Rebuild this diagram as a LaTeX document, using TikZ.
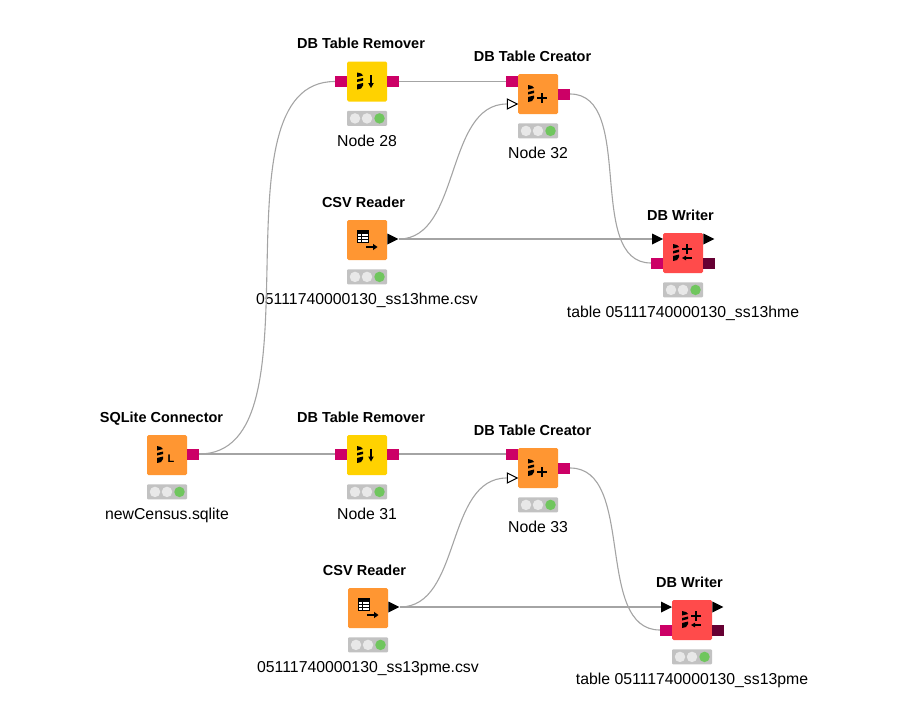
\documentclass[tikz,border=0pt]{standalone}
\usepackage{fontspec}
\setmainfont{Liberation Sans}
\usetikzlibrary{positioning,shapes.geometric}

\definecolor{dbyellow}{HTML}{FFD200}
\definecolor{srcorange}{HTML}{FF9632}
\definecolor{sinkred}{HTML}{FF4B4B}
\definecolor{dbpink}{HTML}{CC0066}
\definecolor{dbdark}{HTML}{660033}
\definecolor{lampgray}{HTML}{C2C2C2}
\definecolor{lampoff}{HTML}{E8E8E8}
\definecolor{lampgreen}{HTML}{70C65E}
\definecolor{wiregray}{HTML}{A4A4A4}

\tikzset{
  nodebody/.style={rectangle, rounded corners=1.5pt, minimum size=40pt, inner sep=0pt},
  nodetitle/.style={font=\bfseries\fontsize{14.5}{14.5}\selectfont, inner sep=0pt, text height=11pt, text depth=3pt},
  nodelabel/.style={font=\fontsize{15.8}{15.8}\selectfont, inner sep=0pt, text height=11pt, text depth=3pt},
  lamps/.style={rectangle, fill=lampgray, rounded corners=1pt, minimum width=40pt, minimum height=15pt, inner sep=0pt},
  lamp/.style={circle, minimum size=10.5pt, inner sep=0pt},
  dbport/.style={rectangle, fill=dbpink, minimum width=11.5pt, minimum height=11pt, inner sep=0pt},
  dataport/.style={isosceles triangle, isosceles triangle stretches, fill=black, minimum width=11pt, minimum height=11pt, inner sep=0pt},
  optport/.style={dataport, fill=white, draw=black, line width=1pt, minimum width=10pt, minimum height=10pt},
  wire/.style={draw=wiregray, line width=1.1pt},
  iconline/.style={draw=black, line width=1.9pt},
  stack/.pic={
    \fill (-10,-9) -- (-6,-8) -- (-4,-6) -- (-10,-4.5) -- cycle;
    \fill (-10,-2) -- (-4,-3.5) -- (-4,-1) -- (-10,0.5) -- cycle;
    \fill (-10,3) -- (-4,1.5) -- (-4,4) -- (-6,7) -- (-10,8) -- cycle;
  },
  grid/.pic={
    \fill (-10,-10) rectangle (2,3);
    \foreach \i in {0,1,2} \foreach \j in {0,1,2}
      \fill[white] ({-9+3.7*\i},{-6+3*\j}) rectangle +(2.9,2.2);
    \draw[iconline] (-1,7) -- (8,7);
    \fill (10.5,7) -- (6,3.8) -- (6,10.2) -- cycle;
  },
  plusdown/.pic={
    \draw[iconline] (-1,4) -- (9,4);
    \draw[iconline] (4,-1) -- (4,9);
  },
  arrowdown/.pic={
    \draw[draw=black, line width=1.2pt] (4,-6.5) -- (4,3);
    \fill (4,6.5) -- (1.2,1.5) -- (6.8,1.5) -- cycle;
  },
  plusleft/.pic={
    \draw[iconline] (-1,-4) -- (9,-4);
    \draw[iconline] (4,-9) -- (4,1);
    \draw[draw=black, line width=1.2pt] (2,5) -- (9,5);
    \fill (-1,5) -- (3,2.6) -- (3,7.4) -- cycle;
  },
}

% body, title, lamps and caption of one workflow node
\newcommand{\knimenode}[7]{
  \node[nodebody, fill=#3] (#1) at (#2) {};
  \node[nodetitle, above=9.5pt of #1, xshift=#5] (#1-title) {#4};
  \node[lamps, below=9pt of #1] (#1-lamps) {};
  \node[lamp, fill=lampoff, xshift=-12pt] (#1-l1) at (#1-lamps.center) {};
  \node[lamp, fill=lampoff] (#1-l2) at (#1-lamps.center) {};
  \node[lamp, fill=lampgreen, xshift=12.5pt] (#1-l3) at (#1-lamps.center) {};
  \node[nodelabel, below=9pt of #1-lamps] (#1-label) {#6};
  #7
}

\begin{document}
\begin{tikzpicture}[x=1pt, y=-1pt]
  \useasboundingbox (0,0) rectangle (900,704);

  \knimenode{conn}{167,455}{srcorange}{SQLite Connector}{-5.5pt}{newCensus.sqlite}
    {\pic at (conn) {stack}; \node[font=\bfseries\fontsize{11}{11}\selectfont, inner sep=0pt] (conn-icon) at (171,458.5) {L};}

  \knimenode{remA}{367,81.5}{dbyellow}{DB Table Remover}{-6pt}{Node 28}
    {\pic at (remA) {stack}; \pic at (remA) {arrowdown};}
  \knimenode{creA}{538,94}{srcorange}{DB Table Creator}{-5.5pt}{Node 32}
    {\pic at (creA) {stack}; \pic at (creA) {plusdown};}
  \knimenode{csvA}{367,240}{srcorange}{CSV Reader}{-3.5pt}{05111740000130\_ss13hme.csv}
    {\pic at (csvA) {grid};}
  \knimenode{wriA}{683,253}{sinkred}{DB Writer}{-2.5pt}{table 05111740000130\_ss13hme}
    {\pic at (wriA) {stack}; \pic at (wriA) {plusleft};}

  \knimenode{remB}{367,455}{dbyellow}{DB Table Remover}{-6pt}{Node 31}
    {\pic at (remB) {stack}; \pic at (remB) {arrowdown};}
  \knimenode{creB}{538,468}{srcorange}{DB Table Creator}{-5.5pt}{Node 33}
    {\pic at (creB) {stack}; \pic at (creB) {plusdown};}
  \knimenode{csvB}{368,608}{srcorange}{CSV Reader}{-3.5pt}{05111740000130\_ss13pme.csv}
    {\pic at (csvB) {grid};}
  \knimenode{wriB}{692,620}{sinkred}{DB Writer}{-2.5pt}{table 05111740000130\_ss13pme}
    {\pic at (wriB) {stack}; \pic at (wriB) {plusleft};}

  % ports
  \node[dbport, right=0pt of conn, yshift=1pt]   (conn-out) {};

  \node[dbport, left=0pt of remA]                (remA-in)  {};
  \node[dbport, right=0pt of remA]               (remA-out) {};
  \node[dbport, left=0pt of creA, yshift=12.5pt] (creA-in)  {};
  \node[optport, anchor=west, xshift=-11pt, yshift=-10pt] (creA-opt) at (creA.west) {};
  \node[dbport, right=0pt of creA]               (creA-out) {};
  \node[dataport, right=0pt of csvA, yshift=1pt] (csvA-out) {};
  \node[dataport, anchor=west, xshift=-11pt, yshift=14pt] (wriA-in) at (wriA.west) {};
  \node[dbport, left=0pt of wriA, yshift=-10pt]  (wriA-db)  {};
  \node[dataport, anchor=west, yshift=14pt]      (wriA-out) at (wriA.east) {};
  \node[dbport, fill=dbdark, right=0pt of wriA, yshift=-10pt] (wriA-dbout) {};

  \node[dbport, left=0pt of remB, yshift=1pt]    (remB-in)  {};
  \node[dbport, right=0pt of remB, yshift=1pt]   (remB-out) {};
  \node[dbport, left=0pt of creB, yshift=14pt]   (creB-in)  {};
  \node[optport, anchor=west, xshift=-11pt, yshift=-10pt] (creB-opt) at (creB.west) {};
  \node[dbport, right=0pt of creB]               (creB-out) {};
  \node[dataport, right=0pt of csvB, yshift=1pt] (csvB-out) {};
  \node[dataport, anchor=west, xshift=-11pt, yshift=13pt] (wriB-in) at (wriB.west) {};
  \node[dbport, left=0pt of wriB, yshift=-10pt]  (wriB-db)  {};
  \node[dataport, anchor=west, yshift=13pt]      (wriB-out) at (wriB.east) {};
  \node[dbport, fill=dbdark, right=0pt of wriB, yshift=-10pt] (wriB-dbout) {};

  % connections
  \draw[wire] (conn-out.east) .. controls +(128,0) and +(-128,0) .. (remA-in.west);
  \draw[wire] (conn-out.east) -- (remB-in.west);

  \draw[wire] (remA-out.east) -- (creA-in.west);
  \draw[wire] (csvA-out.east) .. controls +(62,0) and +(-62,0) .. (creA-opt.west);
  \draw[wire] (csvA-out.east) -- (wriA-in.west);
  \draw[wire] (creA-out.east) .. controls +(66,0) and +(-66,0) .. (wriA-db.west);

  \draw[wire] (remB-out.east) -- (creB-in.west);
  \draw[wire] (csvB-out.east) .. controls +(62,0) and +(-62,0) .. (creB-opt.west);
  \draw[wire] (csvB-out.east) -- (wriB-in.west);
  \draw[wire] (creB-out.east) .. controls +(66,0) and +(-66,0) .. (wriB-db.west);
\end{tikzpicture}
\end{document}
